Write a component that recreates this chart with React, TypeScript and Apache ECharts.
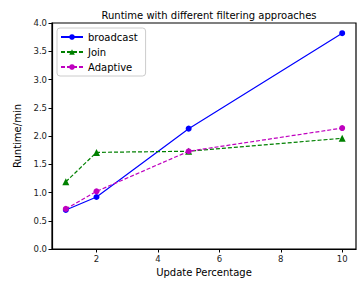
import React, { useEffect, useRef } from "react";
import * as echarts from "echarts";

const xValues = [1, 2, 5, 10];
const broadcast = [0.69, 0.92, 2.13, 3.82];
const join = [1.19, 1.71, 1.73, 1.96];
const adaptive = [0.71, 1.02, 1.73, 2.14];
const xTicks = [2, 4, 6, 8, 10];

const FONT = "DejaVu Sans";

export default function App() {
  const ref = useRef<HTMLDivElement>(null);
  useEffect(() => {
    const chart = echarts.init(ref.current!, null, { renderer: "svg" });
    const pair = (ys: number[]) => xValues.map((x, i) => [x, ys[i]]);
    chart.setOption({
      animation: false,
      textStyle: { fontFamily: FONT },
      title: {
        text: "Runtime with different filtering approaches",
        left: 204,
        textAlign: "center",
        top: 5,
        textStyle: { fontFamily: FONT, fontSize: 10, fontWeight: "normal", color: "#000" },
      },
      grid: {
        left: 52,
        right: 3,
        top: 23,
        bottom: 34,
        show: true,
        borderColor: "#000",
        borderWidth: 1.2,
      },
      legend: {
        orient: "vertical",
        left: 57,
        top: 28,
        itemWidth: 22,
        itemHeight: 7,
        itemGap: 5,
        padding: [4, 8, 4, 3],
        borderColor: "#ccc",
        borderWidth: 1,
        borderRadius: 3,
        backgroundColor: "#fff",
        textStyle: { fontFamily: FONT, fontSize: 10, color: "#000" },
        data: ["broadcast", "Join", "Adaptive"],
      },
      xAxis: {
        type: "value",
        min: 0.55,
        max: 10.45,
        name: "Update Percentage",
        nameLocation: "middle",
        nameGap: 18,
        nameTextStyle: { fontFamily: FONT, fontSize: 10, color: "#000" },
        splitLine: { show: false },
        axisLine: { lineStyle: { color: "#000", width: 1.2 } },
        axisTick: { show: true, length: 3.5, customValues: xTicks, lineStyle: { color: "#000" } },
        axisLabel: { customValues: xTicks, fontSize: 8.5, color: "#222", margin: 5, fontFamily: FONT },
      },
      yAxis: {
        type: "value",
        min: 0,
        max: 4,
        interval: 0.5,
        name: "Runtime/min",
        nameLocation: "middle",
        nameGap: 26,
        nameTextStyle: { fontFamily: FONT, fontSize: 10, color: "#000" },
        splitLine: { show: false },
        axisLine: { show: true, lineStyle: { color: "#000", width: 1.2 } },
        axisTick: { show: true, length: 3.5, lineStyle: { color: "#000" } },
        axisLabel: {
          fontSize: 8.5,
          color: "#222",
          margin: 5,
          fontFamily: FONT,
          formatter: (v: number) => v.toFixed(1),
        },
      },
      series: [
        {
          name: "broadcast",
          type: "line",
          data: pair(broadcast),
          symbol: "circle",
          symbolSize: 6,
          color: "#0000ff",
          lineStyle: { width: 1.2, color: "#0000ff" },
          itemStyle: { color: "#0000ff" },
        },
        {
          name: "Join",
          type: "line",
          data: pair(join),
          symbol: "triangle",
          symbolSize: 7,
          color: "#008000",
          lineStyle: { width: 1.2, type: [4, 2], color: "#008000" },
          itemStyle: { color: "#008000" },
        },
        {
          name: "Adaptive",
          type: "line",
          data: pair(adaptive),
          symbol: "circle",
          symbolSize: 6,
          color: "#bf00bf",
          lineStyle: { width: 1.2, type: [4, 2], color: "#bf00bf" },
          itemStyle: { color: "#bf00bf" },
        },
      ],
    });
    return () => chart.dispose();
  }, []);
  return <div ref={ref} style={{ width: 359, height: 283, position: "absolute", left: 0, top: 0 }} />;
}
